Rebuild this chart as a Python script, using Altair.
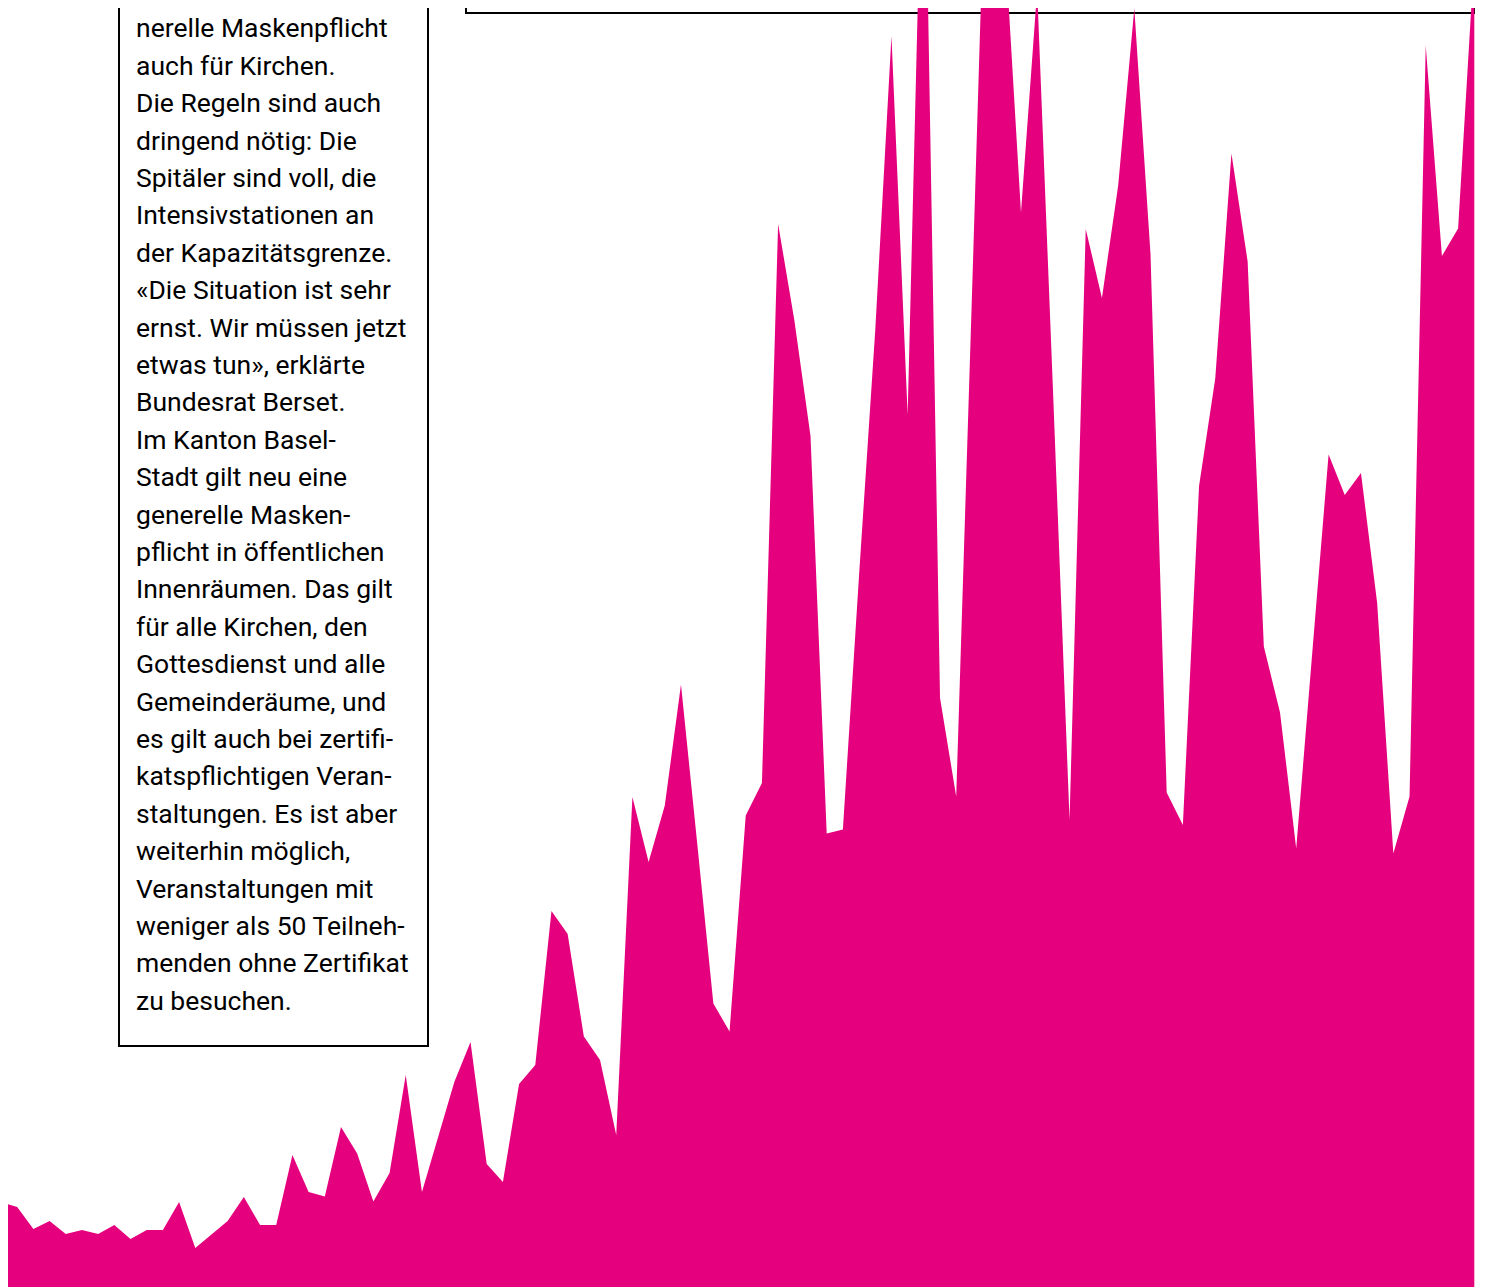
import altair as alt
import pandas as pd

# Daily values (arbitrary units; index = day)
values = [85, 80, 58, 66, 53, 57, 53, 62, 48, 57,
          57, 85, 39, 52.5, 66, 90, 62, 62, 132, 95,
          90.5, 160, 133.5, 85.5, 114, 212, 95, 150, 205, 245,
          123, 105, 203, 222, 376, 353, 250.5, 227, 152, 490,
          425, 481.5, 602.5, 444, 283.5, 255.5, 471.5, 504, 1063, 967,
          851, 453.5, 457.5, 712, 957, 1251, 872.5, 1527, 589, 490.5,
          1006, 1537, 1347, 1074.5, 1297, 887, 467, 1058, 989, 1101,
          1278.5, 1033, 494.5, 462, 801, 908.5, 1133.5, 1025.5, 640.5, 574.5,
          438.5, 636, 832.5, 792, 814, 684, 433.5, 490.5, 1241.5, 1031,
          1058.5, 1330]
days = list(range(len(values)))

text_lines = [
    "50 Personen eine ge-",
    "nerelle Maskenpflicht",
    "auch für Kirchen.",
    "Die Regeln sind auch",
    "dringend nötig: Die",
    "Spitäler sind voll, die",
    "Intensivstationen an",
    "der Kapazitätsgrenze.",
    "«Die Situation ist sehr",
    "ernst. Wir müssen jetzt",
    "etwas tun», erklärte",
    "Bundesrat Berset.",
    "Im Kanton Basel-",
    "Stadt gilt neu eine",
    "generelle Masken-",
    "pflicht in öffentlichen",
    "Innenräumen. Das gilt",
    "für alle Kirchen, den",
    "Gottesdienst und alle",
    "Gemeinderäume, und",
    "es gilt auch bei zertifi-",
    "katspflichtigen Veran-",
    "staltungen. Es ist aber",
    "weiterhin möglich,",
    "Veranstaltungen mit",
    "weniger als 50 Teilneh-",
    "menden ohne Zertifikat",
    "zu besuchen.",
]

MAGENTA = "#E5007E"

df = pd.DataFrame({"day": days, "value": values})
tdf = pd.DataFrame({"line": list(range(len(text_lines))), "text": text_lines})
one = pd.DataFrame({"k": [0]})

W, H = 1474, 1279

top_box = alt.Chart(one).mark_rect(fill="white", stroke="black", strokeWidth=2).encode(
    x=alt.value(458), x2=alt.value(1466), y=alt.value(-20), y2=alt.value(5)
)

left_box = alt.Chart(one).mark_rect(fill="white", stroke="black", strokeWidth=2).encode(
    x=alt.value(111), x2=alt.value(420), y=alt.value(-20), y2=alt.value(1038)
)

text = alt.Chart(tdf).mark_text(
    align="left", baseline="alphabetic", font="Roboto", fontSize=26.5, color="black"
).encode(
    x=alt.value(128),
    y=alt.Y("line:Q", scale=alt.Scale(domain=[0, 27], range=[-8, 37.4 * 27 - 8], nice=False, zero=False), axis=None),
    text="text:N",
)

area = alt.Chart(df).mark_area(color=MAGENTA, interpolate="linear", opacity=1).encode(
    x=alt.X("day:Q", scale=alt.Scale(domain=[0, 91], range=[-7, 1466.3], nice=False, zero=False), axis=None),
    y=alt.Y("value:Q", scale=alt.Scale(domain=[0, 1287], range=[1279, -8], nice=False, zero=False), axis=None),
)

chart = alt.layer(top_box, left_box, text, area).resolve_scale(
    x="independent", y="independent"
).properties(
    width=W, height=H, padding=0, autosize=alt.AutoSizeParams(type="none"), background="white"
).configure_view(stroke=None)

chart.save("out.html", embed_options={"renderer": "svg", "actions": False})
